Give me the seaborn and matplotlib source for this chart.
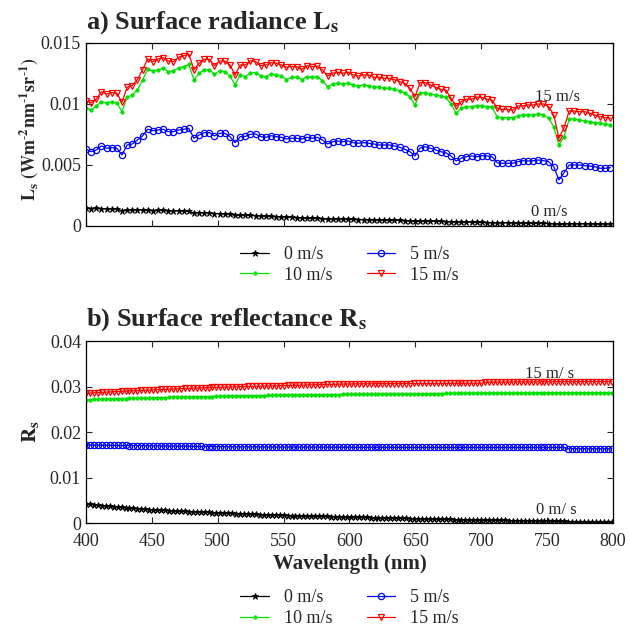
import numpy as np
import matplotlib
matplotlib.use('Agg')
import matplotlib.pyplot as plt
import matplotlib.ticker as tkr
import seaborn as sns

# ---- data (values in units of 1e-5) ----
# a) surface radiance, 103 bands 400-798 nm
wl_top = np.linspace(400, 798, 103)

rad_0 = [145, 143, 145, 141, 139, 139, 137, 125, 130, 131,
         131, 130, 128, 126, 128, 128, 125, 124, 124, 122,
         120, 105, 110, 109, 107, 102, 101, 99, 97, 88,
         90, 88, 86, 84, 82, 80, 78, 76, 74, 72,
         70, 68, 66, 64, 63, 62, 60, 54, 58, 57,
         56, 55, 54, 53, 52, 51, 50, 49, 48, 47,
         46, 45, 44, 42, 37, 41, 40, 39, 38, 37,
         36, 35, 31, 33, 32, 31, 30, 29, 28, 27,
         26, 26, 25, 24, 23, 23, 22, 22, 21, 21,
         20, 18, 13, 16, 19, 18, 18, 17, 17, 16,
         16, 16, 15]

rad_5 = [629, 609, 623, 656, 637, 642, 637, 582, 664, 672,
         705, 738, 793, 781, 787, 793, 773, 773, 787, 793,
         800, 719, 746, 765, 765, 738, 760, 760, 732, 683,
         732, 735, 752, 754, 732, 727, 740, 732, 727, 713,
         719, 719, 713, 727, 719, 727, 705, 672, 691, 697,
         691, 697, 683, 678, 683, 678, 672, 664, 664, 664,
         656, 645, 629, 609, 574, 640, 650, 637, 623, 609,
         600, 574, 533, 555, 568, 574, 568, 576, 574, 568,
         519, 514, 514, 514, 527, 535, 533, 535, 541, 535,
         527, 486, 377, 437, 500, 500, 500, 494, 492, 486,
         473, 473, 478]

rad_10 = [970, 950, 984, 1019, 1010, 1019, 1010, 937, 1055, 1074,
          1115, 1197, 1284, 1270, 1280, 1292, 1265, 1273, 1292, 1306,
          1325, 1197, 1252, 1280, 1280, 1243, 1273, 1265, 1230, 1156,
          1238, 1224, 1257, 1257, 1230, 1224, 1246, 1238, 1230, 1200,
          1219, 1219, 1200, 1224, 1219, 1224, 1191, 1142, 1164, 1170,
          1162, 1170, 1156, 1148, 1156, 1148, 1142, 1137, 1129, 1129,
          1120, 1109, 1088, 1060, 992, 1088, 1093, 1082, 1074, 1066,
          1055, 1000, 924, 965, 978, 978, 986, 986, 978, 978,
          891, 888, 888, 888, 902, 910, 910, 910, 918, 910,
          883, 814, 664, 732, 877, 877, 869, 863, 855, 847,
          842, 834, 828]

rad_15 = [1025, 1010, 1039, 1100, 1082, 1093, 1088, 1014, 1137, 1150,
          1200, 1280, 1369, 1347, 1369, 1380, 1352, 1347, 1383, 1396,
          1410, 1280, 1334, 1366, 1366, 1314, 1352, 1352, 1320, 1238,
          1320, 1320, 1355, 1347, 1314, 1320, 1339, 1334, 1320, 1301,
          1306, 1306, 1284, 1314, 1306, 1311, 1280, 1230, 1252, 1260,
          1252, 1260, 1238, 1230, 1238, 1238, 1219, 1219, 1210, 1210,
          1200, 1183, 1170, 1129, 1060, 1175, 1175, 1156, 1137, 1120,
          1115, 1047, 984, 1019, 1039, 1039, 1055, 1055, 1039, 1033,
          965, 956, 956, 950, 984, 984, 992, 992, 1000, 1000,
          978, 910, 719, 806, 943, 943, 937, 937, 924, 910,
          896, 888, 883]

# b) surface reflectance, 134 bands 400-799 nm
wl_bot = np.arange(400, 800, 3)

ref_0 = [420, 410, 400, 391, 382, 373, 365, 357, 349, 342, 335, 328, 321, 315, 309, 303, 297,
         292, 287, 282, 277, 272, 268, 264, 260, 256, 252, 248, 244, 240, 237, 233, 229, 225,
         221, 217, 214, 210, 207, 203, 200, 196, 193, 190, 187, 184, 181, 178, 175, 172, 167,
         165, 163, 161, 159, 157, 155, 153, 151, 149, 147, 145, 143, 141, 140,
         138, 136, 133, 131, 128, 126, 123, 121, 118, 116, 113, 111, 108, 106, 104, 102, 100, 98, 96,
         94, 92, 90, 88, 86, 84, 82, 80, 78, 76, 74, 73, 71, 69, 68, 66, 65,
         64, 62, 61, 59, 58, 56, 55, 53, 52, 50, 49, 47, 46, 44, 43, 41, 40, 38, 37, 35,
         34, 32, 31, 29, 28, 27, 26, 25, 24, 23, 22, 21, 20]

ref_5 = [1714, 1713, 1712, 1711, 1710, 1709, 1708, 1707, 1706, 1705, 1704, 1703, 1702, 1701, 1700, 1700, 1699,
         1698, 1697, 1696, 1694, 1693, 1692, 1690, 1689, 1688, 1686, 1685, 1684, 1682, 1681, 1680, 1679, 1678,
         1677, 1677, 1676, 1676, 1675, 1675, 1674, 1674, 1673, 1673, 1672, 1672, 1671, 1671, 1671, 1670, 1670,
         1669, 1669, 1669, 1669, 1668, 1668, 1668, 1668, 1667, 1667, 1667, 1666, 1666, 1666,
         1665, 1665, 1665, 1665, 1665, 1664, 1664, 1664, 1664, 1664, 1663, 1663, 1663, 1663, 1663, 1662, 1662, 1662, 1662,
         1662, 1662, 1662, 1662, 1662, 1661, 1661, 1661, 1661, 1661, 1661, 1661, 1661, 1661, 1661, 1661, 1661,
         1661, 1661, 1661, 1661, 1661, 1661, 1661, 1661, 1661, 1661, 1661, 1661, 1661, 1661, 1661, 1661, 1661,
         1661, 1661, 1661, 1661,
         1634, 1634, 1633, 1633, 1633, 1632, 1632, 1632, 1631, 1631, 1631, 1630]

ref_10 = [2710, 2713, 2716, 2718, 2721, 2723, 2726, 2728, 2731, 2733, 2735, 2738, 2740, 2742, 2745, 2747, 2750,
          2752, 2754, 2756, 2758, 2760, 2762, 2763, 2765, 2767, 2769, 2771, 2772, 2774, 2776, 2778, 2779, 2781,
          2783, 2785, 2786, 2788, 2790, 2791, 2793, 2795, 2796, 2798, 2800, 2801, 2803, 2805, 2806, 2808, 2810,
          2811, 2812, 2813, 2814, 2815, 2816, 2817, 2818, 2818, 2819, 2819, 2820, 2820, 2821,
          2830, 2830, 2831, 2831, 2832, 2832, 2833, 2833, 2834, 2834, 2835, 2835, 2836, 2836, 2837, 2837, 2838, 2839, 2840,
          2841, 2842, 2843, 2844, 2845, 2845, 2846, 2847, 2848, 2849, 2849, 2850, 2851, 2852, 2852, 2853, 2854,
          2855, 2855, 2856, 2856, 2857, 2857, 2858, 2858, 2858, 2859, 2859, 2859, 2860, 2860, 2860, 2860, 2861,
          2861, 2861, 2861, 2862, 2862, 2862, 2862, 2862, 2862, 2862, 2862, 2862, 2862, 2862, 2862, 2862]

ref_15 = [2854, 2858, 2863, 2867, 2872, 2876, 2881, 2885, 2890, 2894, 2899, 2903, 2907, 2912, 2916, 2920, 2925,
          2929, 2933, 2936, 2940, 2943, 2947, 2950, 2954, 2957, 2961, 2964, 2968, 2971, 2975, 2978, 2981, 2984,
          2986, 2988, 2991, 2993, 2995, 2997, 2999, 3001, 3004, 3006, 3008, 3010, 3013, 3015, 3017, 3019, 3022,
          3024, 3026, 3028, 3031, 3033, 3035, 3037, 3039, 3042, 3044, 3046, 3048, 3051, 3053,
          3055, 3057, 3059, 3059, 3060, 3060, 3061, 3061, 3062, 3062, 3063, 3063, 3064, 3064, 3065, 3065, 3066, 3066, 3067,
          3067, 3068, 3068, 3068, 3069, 3069, 3069, 3070, 3070, 3070, 3071, 3071, 3071, 3072, 3072, 3072, 3072,
          3096, 3097, 3097, 3098, 3098, 3099, 3099, 3100, 3100, 3101, 3101, 3102, 3102, 3103, 3103, 3104, 3104,
          3105, 3105, 3105, 3106, 3106, 3106, 3107, 3107, 3108, 3108, 3108, 3109, 3109, 3109, 3110, 3110]

labels = ['0 m/s', '5 m/s', '10 m/s', '15 m/s']
colors = ['black', 'blue', '#00e000', 'red']

sns.set_style('ticks')
plt.rcParams['font.family'] = ['Liberation Serif', 'DejaVu Serif']
plt.rcParams['mathtext.fontset'] = 'stix'
plt.rcParams['xtick.direction'] = 'in'
plt.rcParams['ytick.direction'] = 'in'

styles = [dict(marker='*', markersize=4.5, markerfacecolor='black', markeredgecolor='black', markeredgewidth=0.6),
          dict(marker='o', markersize=4.5, markerfacecolor='none', markeredgecolor='blue', markeredgewidth=0.9),
          dict(marker='o', markersize=2.5, markerfacecolor='#00e000', markeredgecolor='#00e000', markeredgewidth=0.5),
          dict(marker='v', markersize=5, markerfacecolor='none', markeredgecolor='red', markeredgewidth=0.9)]

fig = plt.figure(figsize=(6.29, 6.30), dpi=100)
ax1 = fig.add_axes([0.1367, 0.6413, 0.8378, 0.2905])
ax2 = fig.add_axes([0.1367, 0.1698, 0.8378, 0.2889])

fmt = tkr.FuncFormatter(lambda v, p: '{:g}'.format(round(v, 4)))

for ax, wl, series, scale in [(ax1, wl_top, [rad_0, rad_5, rad_10, rad_15], 1e-5),
                              (ax2, wl_bot, [ref_0, ref_5, ref_10, ref_15], 1e-5)]:
    for vals, lab, col, st in zip(series, labels, colors, styles):
        sns.lineplot(x=wl, y=np.array(vals) * scale, color=col, linewidth=0.9,
                     label=lab, ax=ax, **st)
    ax.set_xlim(400, 800)
    ax.set_xticks(range(400, 801, 50))
    ax.tick_params(direction='in', top=True, right=True, length=4, width=0.8, labelsize=13)
    ax.tick_params(axis='x', pad=7)
    ax.yaxis.set_major_formatter(fmt)
    for s in ax.spines.values():
        s.set_linewidth(0.9)
        s.set_color('black')
    h, l = ax.get_legend_handles_labels()
    order = [0, 2, 1, 3]
    ax.legend([h[i] for i in order], [l[i] for i in order], ncol=2, frameon=False,
              loc='center', fontsize=13, handlelength=1.6, handletextpad=0.8,
              columnspacing=1.9, labelspacing=0.2)

ax1.set_ylim(0, 0.015)
ax1.set_yticks([0, 0.005, 0.01, 0.015])
ax1.set_xticklabels([])
ax1.set_xlabel('')
ax1.set_title(r'a) Surface radiance $\mathbf{L_s}$', loc='left', fontweight='bold', fontsize=19, pad=10)
ax1.set_ylabel(r'$\mathbf{L_s\ (Wm^{\text{-}2}nm^{\text{-}1}sr^{\text{-}1})}$', fontsize=13)
ax1.yaxis.set_label_coords(-0.088, 0.53)
ax1.get_legend().set_bbox_to_anchor((0.5, -0.213))
ax1.text(758, 0.0106, '15 m/s', ha='center', va='center', fontsize=12)
ax1.text(752, 0.00115, '0 m/s', ha='center', va='center', fontsize=12)

ax2.set_ylim(0, 0.04)
ax2.set_yticks([0, 0.01, 0.02, 0.03, 0.04])
ax2.set_title(r'b) Surface reflectance $\mathbf{R_s}$', loc='left', fontweight='bold', fontsize=19, pad=11)
ax2.set_ylabel(r'$\mathbf{R_s}$', fontsize=15)
ax2.yaxis.set_label_coords(-0.085, 0.5)
ax2.set_xlabel('Wavelength (nm)', fontweight='bold', fontsize=15, labelpad=3)
ax2.get_legend().set_bbox_to_anchor((0.5, -0.467))
ax2.text(752, 0.0328, '15 m/ s', ha='center', va='center', fontsize=12)
ax2.text(757, 0.0028, '0 m/ s', ha='center', va='center', fontsize=12)

fig.savefig('out.png', dpi=100)
